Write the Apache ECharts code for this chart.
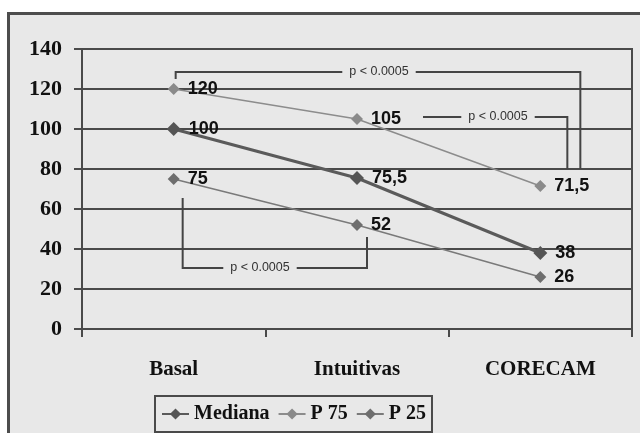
<!DOCTYPE html>
<html><head><meta charset="utf-8">
<script src="https://cdn.jsdelivr.net/npm/echarts@6/dist/echarts.min.js"></script>
<style>html,body{margin:0;padding:0;background:#fff;}#c{width:640px;height:433px;}</style>
</head><body><div id="c"></div>
<script>
const categories = ['Basal', 'Intuitivas', 'CORECAM'];
const mediana = [100, 75.5, 38];
const p75 = [120, 105, 71.5];
const p25 = [75, 52, 26];
const yTicks = [0, 20, 40, 60, 80, 100, 120, 140];
const pText = 'p < 0.0005';

const chart = echarts.init(document.getElementById('c'), null, {renderer: 'canvas'});
const serif = '"Liberation Serif", "Times New Roman", serif';
const sans = '"Liberation Sans", Arial, sans-serif';
const fmt = p => String(p.value).replace('.', ',');
const lbl = {show: true, position: 'right', distance: 8, color: '#111', fontFamily: sans, fontWeight: 'bold', fontSize: 18, formatter: fmt};

chart.setOption({
  animation: false,
  backgroundColor: 'transparent',
  grid: {left: 82, right: 8, top: 49, bottom: 104, show: true, borderColor: '#4a4a4a', borderWidth: 2, backgroundColor: 'transparent'},
  xAxis: {
    type: 'category', data: categories, boundaryGap: true,
    axisLine: {lineStyle: {color: '#4a4a4a', width: 2}},
    axisTick: {show: true, length: 8, lineStyle: {color: '#4a4a4a', width: 2}},
    axisLabel: {color: '#111', fontFamily: serif, fontWeight: 'bold', fontSize: 21, margin: 30}
  },
  yAxis: {
    type: 'value', min: yTicks[0], max: yTicks[yTicks.length - 1], interval: 20,
    axisLine: {show: true, lineStyle: {color: '#4a4a4a', width: 2}},
    axisTick: {show: true, length: 8, lineStyle: {color: '#4a4a4a', width: 2}},
    splitLine: {show: true, lineStyle: {color: '#4a4a4a', width: 2}},
    axisLabel: {color: '#111', fontFamily: serif, fontWeight: 'bold', fontSize: 22, margin: 20}
  },
  legend: {
    left: 155, top: 396, padding: [8, 6, 8, 6], itemGap: 8, itemWidth: 27, itemHeight: 14,
    borderColor: '#4a4a4a', borderWidth: 2, backgroundColor: 'transparent',
    textStyle: {color: '#111', fontFamily: serif, fontWeight: 'bold', fontSize: 20, lineHeight: 20},
    data: ['Mediana', 'P 75', 'P 25']
  },
  series: [
    {name: 'P 75', type: 'line', data: p75, symbol: 'diamond', symbolSize: 12,
     lineStyle: {color: '#8c8c8c', width: 1.5}, itemStyle: {color: '#8a8a8a'}, label: lbl, z: 3},
    {name: 'P 25', type: 'line', data: p25, symbol: 'diamond', symbolSize: 12,
     lineStyle: {color: '#7a7a7a', width: 1.5}, itemStyle: {color: '#6e6e6e'}, label: lbl, z: 3},
    {name: 'Mediana', type: 'line', data: mediana, symbol: 'diamond', symbolSize: 14,
     lineStyle: {color: '#5a5a5a', width: 3}, itemStyle: {color: '#555'}, label: lbl, z: 4}
  ]
});

function px(i, v) { return chart.convertToPixel({gridIndex: 0}, [i, v]); }
const x0 = px(0, 0)[0], x1 = px(1, 0)[0], x2 = px(2, 0)[0];
const y = v => px(0, v)[1];
const stroke = {stroke: '#444', lineWidth: 2, fill: null};
function poly(points) { return {type: 'polyline', z: 5, shape: {points}, style: stroke}; }
function ptxt(x, yy) {
  return {type: 'text', z: 6, x, y: yy, style: {text: pText, fill: '#333', font: '12.5px ' + sans,
    align: 'center', verticalAlign: 'middle', backgroundColor: '#e8e8e8', padding: [2, 7]}};
}
chart.setOption({
  graphic: [
    {type: 'rect', z: -10, shape: {x: 8.5, y: 13.5, width: 700, height: 500},
     style: {fill: '#e8e8e8', stroke: '#4d4d4d', lineWidth: 3}},
    poly([[x0 + 2, y(125)], [x0 + 2, y(128.5)], [x2 + 40, y(128.5)], [x2 + 40, y(80)]]),
    ptxt(379, y(128.5)),
    poly([[x1 + 66, y(106)], [x2 + 27, y(106)], [x2 + 27, y(80)]]),
    ptxt(498, y(106)),
    poly([[x0 + 9, y(65.5)], [x0 + 9, y(30.5)], [x1 + 10, y(30.5)], [x1 + 10, y(46)]]),
    ptxt(260, y(30.5))
  ]
});
</script></body></html>
